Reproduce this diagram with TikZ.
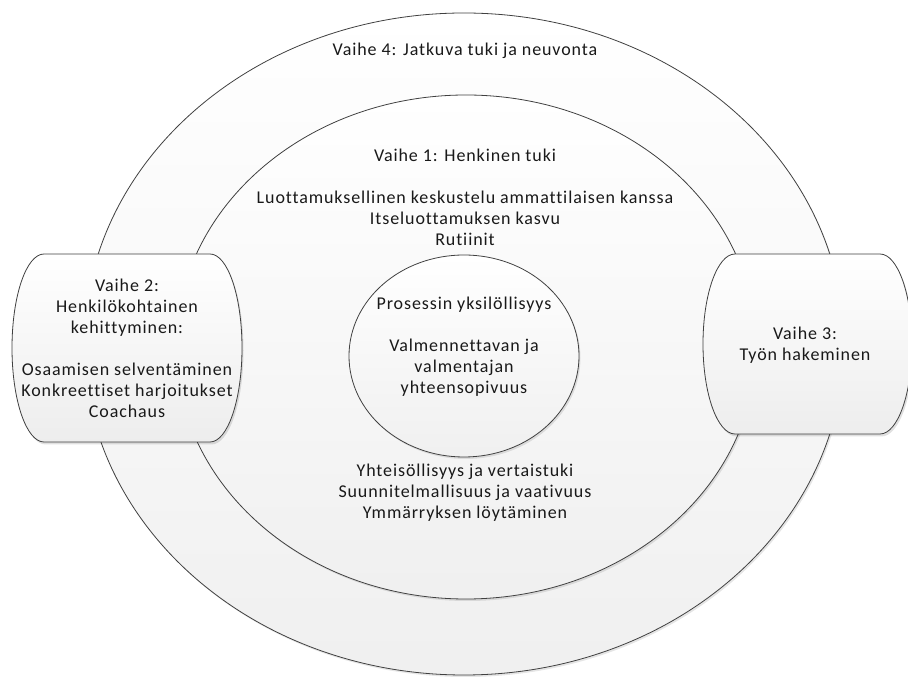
\documentclass[tikz,border=0pt]{standalone}
\usepackage{fontspec}
\setmainfont{Carlito}[LetterSpace=5, Ligatures=CommonOff]
\usetikzlibrary{shapes.geometric,shadows}

\begin{document}
\begin{tikzpicture}[x=1pt, y=1pt,
    ring/.style={ellipse, draw=black!75, line width=0.8pt, inner sep=0pt,
      top color=white, bottom color=black!6,
      drop shadow={shadow xshift=1.5pt, shadow yshift=-2pt, fill=black, opacity=.10}},
    sidebox/.style={draw=black!75, line width=0.8pt,
      top color=white, bottom color=black!7,
      drop shadow={shadow xshift=1.5pt, shadow yshift=-2.5pt, fill=black, opacity=.12}},
    lbl/.style={align=center, text=black!90, font=\fontsize{18}{21}\selectfont}]
    \useasboundingbox (0,0) rectangle (908,677);

    % rings
    \node[ring, minimum width=760pt, minimum height=662pt] (outer) at (464,333) {};
    \node[ring, minimum width=580pt, minimum height=504pt] (middle) at (466,330) {};
    \node[ring, minimum width=230pt, minimum height=202pt] (inner) at (464,321) {};

    % side boxes
    \path[sidebox] (44,423) -- (210,423) arc[start angle=90, end angle=-90, x radius=32pt, y radius=94pt]
        -- (44,235) arc[start angle=270, end angle=90, x radius=32pt, y radius=94pt] -- cycle;
    \path[sidebox] (735,423) -- (880,423) arc[start angle=90, end angle=-90, x radius=32pt, y radius=90pt]
        -- (735,243) arc[start angle=270, end angle=90, x radius=32pt, y radius=90pt] -- cycle;

    % texts
    \node[lbl] (phase4) at (465,626) {Vaihe 4: Jatkuva tuki ja neuvonta};
    \node[lbl] (phase1) at (465,479.5) {Vaihe 1: Henkinen tuki\\[\baselineskip]
        Luottamuksellinen keskustelu ammattilaisen kanssa\\
        Itseluottamuksen kasvu\\
        Rutiinit};
    \node[lbl] (core) at (464,330) {Prosessin yksilöllisyys\\[\baselineskip]
        Valmennettavan ja\\ valmentajan\\ yhteensopivuus};
    \node[lbl] (phase1b) at (465,184) {Yhteisöllisyys ja vertaistuki\\
        Suunnitelmallisuus ja vaativuus\\
        Ymmärryksen löytäminen};
    \node[lbl] (phase2) at (127,328.5) {Vaihe 2:\\ Henkilökohtainen\\ kehittyminen:\\[\baselineskip]
        Osaamisen selventäminen\\ Konkreettiset harjoitukset\\ Coachaus};
    \node[lbl] (phase3) at (805,331.5) {Vaihe 3:\\ Työn hakeminen};
\end{tikzpicture}
\end{document}
